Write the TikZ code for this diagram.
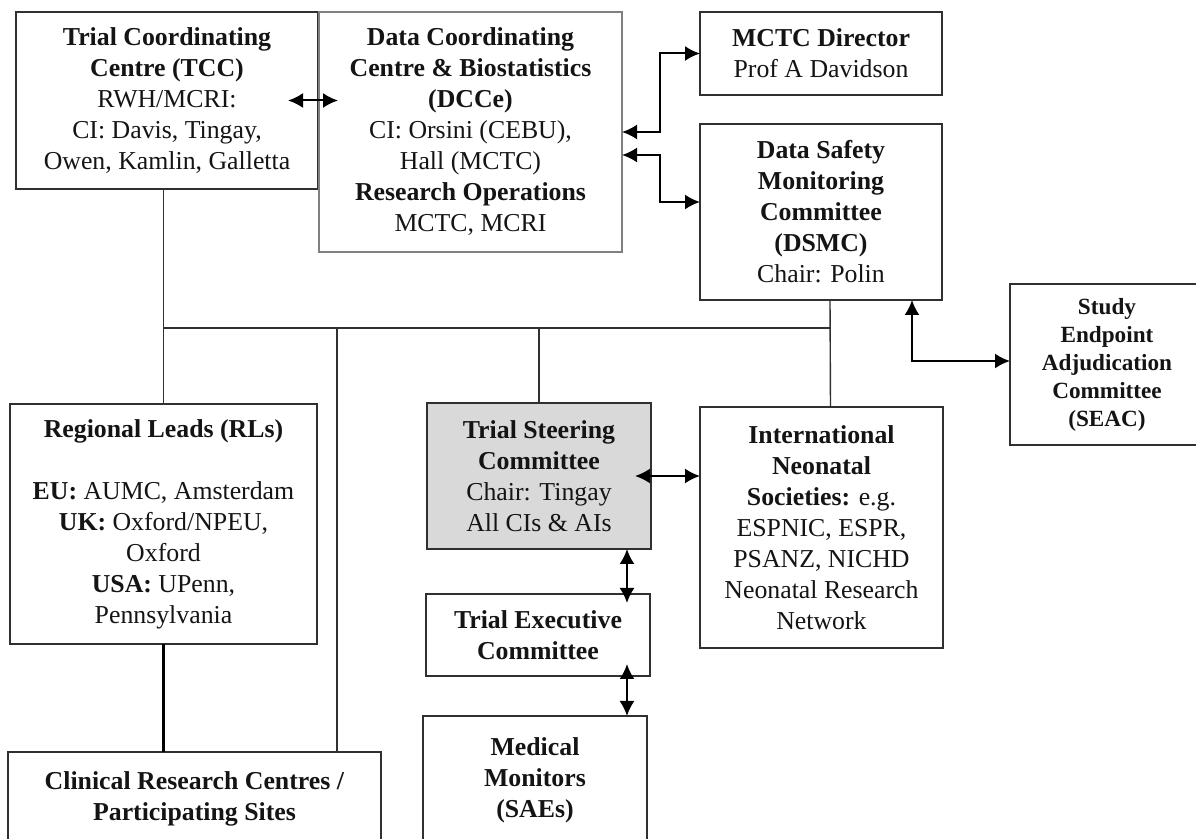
\documentclass[tikz,border=0pt]{standalone}
\usepackage{fontspec}
\setmainfont{Liberation Serif}
\usetikzlibrary{arrows.meta}
\definecolor{steergrey}{HTML}{D9D9D9}
\definecolor{edgegrey}{HTML}{303030}

\begin{document}
\begin{tikzpicture}[x=0.5pt, y=-0.5pt,
        box/.style={draw=edgegrey, line width=0.7pt, inner sep=0pt, outer sep=0pt,
            align=center, text=black!92, font=\fontsize{12.9pt}{15.5pt}\selectfont},
        link/.style={draw=edgegrey, line width=0.7pt},
        dbl/.style={line width=1pt,
            {Latex[length=7.5pt,width=7.5pt]}-{Latex[length=7.5pt,width=7.5pt]}}]
\clip (0,0) rectangle (1196,839);

% top row
\node[box, minimum width=151pt, minimum height=88.5pt] (tcc) at (167,100.5)
    {\textbf{Trial Coordinating}\\ \textbf{Centre (TCC)}\\ RWH/MCRI:\\
     CI: Davis, Tingay,\\ Owen, Kamlin, Galletta};
\node[box, draw=black!50, minimum width=151.5pt, minimum height=120pt] (dcc) at (470.5,132)
    {\textbf{Data Coordinating}\\ \textbf{Centre \& Biostatistics}\\ \textbf{(DCCe)}\\
     CI: Orsini (CEBU),\\ Hall (MCTC)\\ \textbf{Research Operations}\\ MCTC, MCRI};
\node[box, minimum width=121pt, minimum height=41.5pt] (mctc) at (821,53.5)
    {\textbf{MCTC Director}\\ Prof A Davidson};
\node[box, minimum width=121pt, minimum height=88pt] (dsmc) at (821,212)
    {\textbf{Data Safety}\\ \textbf{Monitoring}\\ \textbf{Committee}\\ \textbf{(DSMC)}\\ Chair: Polin};
\node[box, minimum width=97pt, minimum height=80.5pt,
      font=\fontsize{11.6pt}{14pt}\selectfont\bfseries] (seac) at (1107,364.5)
    {Study\\ Endpoint\\ Adjudication\\ Committee\\ (SEAC)};

% middle row
\node[box, minimum width=153.5pt, minimum height=120pt] (rl) at (163.5,524)
    {\textbf{Regional Leads (RLs)}\\[15.5pt]
     \textbf{EU:} AUMC, Amsterdam\\ \textbf{UK:} Oxford/NPEU,\\ Oxford\\
     \textbf{USA:} UPenn,\\ Pennsylvania};
\node[box, fill=steergrey, minimum width=112pt, minimum height=73pt] (tsc) at (539,476)
    {\textbf{Trial Steering}\\ \textbf{Committee}\\ Chair: Tingay\\ All CIs \& AIs};
\node[box, minimum width=121.5pt, minimum height=120.5pt] (ins) at (821.5,527.5)
    {\textbf{International}\\ \textbf{Neonatal}\\ \textbf{Societies:} e.g.\\
     ESPNIC, ESPR,\\ PSANZ, NICHD\\ Neonatal Research\\ Network};

% bottom row
\node[box, minimum width=112pt, minimum height=41pt] (tec) at (538,635)
    {\textbf{Trial Executive}\\ \textbf{Committee}};
\node[box, minimum width=112pt, minimum height=64.5pt] (mm) at (535,780.5)
    {\textbf{Medical}\\ \textbf{Monitors}\\ \textbf{(SAEs)}};
\node[box, minimum width=186.5pt, minimum height=46.5pt] (clin) at (194.5,798.5)
    {\textbf{Clinical Research Centres /}\\ \textbf{Participating Sites}};

% reporting lines
\coordinate (busL) at (163,328);
\coordinate (busR) at (830,328);
\coordinate (siteTap) at (337,328);
\coordinate (spine) at (627,0);
\draw[link] (busL) -- (busR);
\draw[link] (tcc.south -| rl.north) -- (rl.north);
\draw[link] (siteTap) -- (siteTap |- clin.north);
\draw[link] (tsc.north |- busL) -- (tsc.north);
\draw[link] ([xshift=4.5pt]dsmc.south) -- ([xshift=4.5pt]ins.north);
\draw[line width=1.2pt] (rl.south) -- (rl.south |- clin.north);

% two-way links
\draw[dbl] ([xshift=-15pt]tcc.east) -- ([xshift=10pt]tcc.east);
\draw[dbl] (dcc.east) -- ++(38,0) |- (mctc.west);
\draw[dbl] ([yshift=-11.5pt]dcc.east) -- ++(38,0) |- ([yshift=5pt]dsmc.west);
\draw[dbl] ([xshift=45.5pt]dsmc.south) |- ([yshift=1.75pt]seac.west);
\draw[dbl] ([xshift=-8pt]tsc.east) -- (tsc.east -| ins.west);
\draw[dbl] (tsc.south -| spine) -- ([yshift=-4.5pt]tec.north -| spine);
\draw[dbl] ([yshift=6pt]tec.south -| spine) -- (mm.north -| spine);

\end{tikzpicture}
\end{document}
